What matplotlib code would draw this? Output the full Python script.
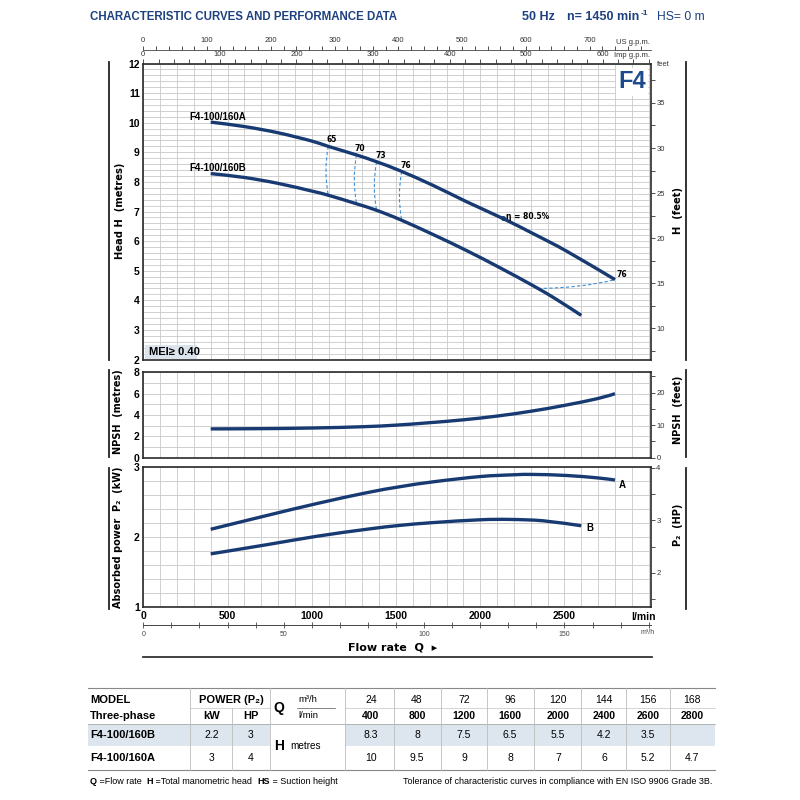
import numpy as np
import matplotlib
matplotlib.use("Agg")
import matplotlib.pyplot as plt
from matplotlib.lines import Line2D
from matplotlib.patches import PathPatch, Rectangle
from matplotlib.path import Path
from matplotlib.ticker import NullFormatter

NARROW = ['Liberation Sans Narrow', 'Liberation Sans', 'DejaVu Sans']
WIDE = ['DejaVu Sans']
plt.rcParams['font.family'] = NARROW

NAVY = '#173a72'
TITLE_BLUE = '#1e4180'
DASH = '#3d8fd6'
GRID = '#c9c9c9'

# ---------------- data ----------------
flow_A = [400, 600, 800, 1000, 1098, 1266, 1385, 1523, 1721, 1919, 2136, 2315, 2513, 2800]
head_A = [10.02, 9.87, 9.66, 9.38, 9.20, 8.91, 8.68, 8.38, 7.88, 7.33, 6.76, 6.25, 5.66, 4.70]
flow_B = [400, 600, 800, 1000, 1098, 1266, 1385, 1523, 1721, 1919, 2117, 2315, 2450, 2600]
head_B = [8.28, 8.15, 7.95, 7.69, 7.55, 7.26, 7.04, 6.73, 6.22, 5.68, 5.10, 4.49, 4.04, 3.49]

eff_labels = ['65', '70', '73', '76']
eff_flow = [1098, 1266, 1385, 1534]
eff_top = [9.20, 8.91, 8.68, 8.35]
eff_bot = [7.55, 7.26, 7.04, 6.71]
eff_end_flow = [2344, 2600, 2800]
eff_end_head = [4.40, 4.41, 4.70]
best_eff = (2133, 6.77, 'η = 80.5%')

flow_npsh = [400, 700, 1000, 1300, 1500, 1700, 1900, 2100, 2300, 2500, 2700, 2800]
npsh = [2.70, 2.72, 2.78, 2.90, 3.05, 3.28, 3.55, 3.90, 4.35, 4.90, 5.55, 6.00]

flow_PA = [400, 732, 1029, 1326, 1523, 1721, 2000, 2200, 2315, 2513, 2700, 2800]
power_A = [2.11, 2.305, 2.475, 2.63, 2.715, 2.785, 2.86, 2.885, 2.89, 2.875, 2.84, 2.81]
flow_PB = [400, 732, 1029, 1326, 1523, 1721, 2000, 2178, 2376, 2600]
power_B = [1.76, 1.89, 2.01, 2.11, 2.165, 2.205, 2.245, 2.25, 2.23, 2.16]

table_m3h = ['24', '48', '72', '96', '120', '144', '156', '168']
table_lmin = ['400', '800', '1200', '1600', '2000', '2400', '2600', '2800']
models = ['F4-100/160B', 'F4-100/160A']
model_kw = ['2.2', '3']
model_hp = ['3', '4']
model_heads = [['8.3', '8', '7.5', '6.5', '5.5', '4.2', '3.5', ''],
               ['10', '9.5', '9', '8', '7', '6', '5.2', '4.7']]

# ---------------- figure ----------------
fig = plt.figure(figsize=(8, 8), dpi=100)


def fx(x):
    return x / 800.0


def fy(y):
    return 1 - y / 800.0


X0, X1 = 143.3, 650.7
QMAX = 3012


def add_ax(top, bottom):
    return fig.add_axes([fx(X0), fy(bottom), (X1 - X0) / 800.0, (bottom - top) / 800.0])


def style_main(ax, ylim, ymajor, yminor):
    ax.set_xlim(0, QMAX)
    ax.set_ylim(*ylim)
    ax.set_xticks(np.arange(0, QMAX, 100), minor=True)
    ax.set_yticks(yminor, minor=True)
    ax.set_yticks(ymajor)
    ax.set_yticklabels([('%g' % v) for v in ymajor])
    ax.grid(True, which='both', color=GRID, lw=0.6)
    ax.set_axisbelow(True)
    ax.tick_params(which='both', length=0)
    ax.tick_params(axis='y', labelsize=7.5, pad=2.5)
    for lab in ax.get_yticklabels():
        lab.set_fontweight('bold')
    for s in ax.spines.values():
        s.set_color('#2a2a2a')
        s.set_linewidth(1.2)


def smooth_path(xs, ys):
    # smooth curve (Catmull-Rom as cubic Bezier) passing through the read points
    P = np.column_stack([xs, ys]).astype(float)
    n = len(P)
    verts = [P[0]]
    codes = [Path.MOVETO]
    for i in range(n - 1):
        p0 = P[i - 1] if i > 0 else P[i]
        p1 = P[i]
        p2 = P[i + 1]
        p3 = P[i + 2] if i + 2 < n else P[i + 1]
        verts += [p1 + (p2 - p0) / 6.0, p2 - (p3 - p1) / 6.0, p2]
        codes += [Path.CURVE4] * 3
    return Path(verts, codes)


def draw_curve(ax, xs, ys, lw=2.4):
    ax.add_patch(PathPatch(smooth_path(xs, ys), fill=False, ec=NAVY, lw=lw,
                           capstyle='butt', joinstyle='round', zorder=4))


ax_h = add_ax(63.5, 359.5)
ax_n = add_ax(372.3, 457.7)
ax_p = add_ax(466.7, 607.3)

style_main(ax_h, (2, 12), list(range(2, 13)), np.arange(2, 12.01, 0.2))
style_main(ax_n, (0, 8), [0, 2, 4, 6, 8], np.arange(0, 8.01, 1))
style_main(ax_p, (1, 3), [1, 2, 3], np.arange(1, 3.01, 0.2))

for ax in (ax_h, ax_n):
    ax.set_xticks([])
    ax.set_xticks(np.arange(0, QMAX, 100), minor=True)
    ax.tick_params(which='both', length=0, labelbottom=False)

ax_p.set_xticks([0, 500, 1000, 1500, 2000, 2500])
ax_p.set_xticklabels(['0', '500', '1000', '1500', '2000', '2500'])
ax_p.tick_params(axis='x', labelsize=7.5, pad=3)
for lab in ax_p.get_xticklabels():
    lab.set_fontweight('bold')
ax_p.text(0.985, -0.07, 'l/min', transform=ax_p.transAxes, ha='center', va='center',
          fontsize=7.5, fontweight='bold')

# curves
draw_curve(ax_h, flow_A, head_A)
draw_curve(ax_h, flow_B, head_B)
draw_curve(ax_n, flow_npsh, npsh)
draw_curve(ax_p, flow_PA, power_A)
draw_curve(ax_p, flow_PB, power_B)

# efficiency iso-lines
for q, ht, hb, lab in zip(eff_flow, eff_top, eff_bot, eff_labels):
    verts = [(q, ht), (q - 28, (ht + hb) / 2.0), (q, hb)]
    ax_h.add_patch(PathPatch(Path(verts, [Path.MOVETO, Path.CURVE3, Path.CURVE3]), fill=False,
                             ec=DASH, lw=0.8, ls=(0, (3, 2)), zorder=3))
    ax_h.text(q + 22, ht + 0.22, lab, fontsize=5.5, fontweight='bold', ha='center', va='center',
              family=WIDE, zorder=5)
verts = list(zip(eff_end_flow, eff_end_head))
ax_h.add_patch(PathPatch(Path(verts, [Path.MOVETO, Path.CURVE3, Path.CURVE3]), fill=False,
                         ec=DASH, lw=0.8, ls=(0, (3, 2)), zorder=3))
ax_h.text(eff_end_flow[-1] + 40, eff_end_head[-1] + 0.17, '76', fontsize=5.5, fontweight='bold',
          ha='center', va='center', family=WIDE, zorder=5)
ax_h.plot([best_eff[0]], [best_eff[1]], marker='o', ms=2.5, color=NAVY, zorder=5)
ax_h.text(best_eff[0] + 20, best_eff[1] + 0.06, best_eff[2], fontsize=5.5, fontweight='bold',
          ha='left', va='center', family=WIDE, zorder=5)

# curve names
ax_h.text(273, 10.2, 'F4-100/160A', fontsize=7, fontweight='bold', ha='left', va='center')
ax_h.text(273, 8.48, 'F4-100/160B', fontsize=7, fontweight='bold', ha='left', va='center')
ax_p.text(2845, 2.74, 'A', fontsize=7, fontweight='bold', ha='center', va='center')
ax_p.text(2650, 2.13, 'B', fontsize=7, fontweight='bold', ha='center', va='center')

# MEI box
fig.add_artist(Rectangle((fx(144.5), fy(359)), (197 - 144.5) / 800.0, 14.5 / 800.0,
                         transform=fig.transFigure, facecolor='#dbe3ec', edgecolor='none', zorder=5))
fig.text(fx(149), fy(352), 'MEI≥ 0.40', fontsize=8, fontweight='bold', ha='left', va='center',
         zorder=6)

# F4
fig.text(fx(632), fy(82), 'F4', fontsize=17, fontweight='bold', color='#1d4a8c', ha='center',
         va='center', bbox=dict(facecolor='white', edgecolor='none', pad=1.5), zorder=6)

# right axes
FT = 3.28084
axr = ax_h.twinx()
axr.set_ylim(2 * FT, 12 * FT)
axr.set_yticks(np.arange(10, 36, 5))
axr.set_yticks(np.arange(7.5, 39.5, 2.5), minor=True)
r2 = ax_n.twinx()
r2.set_ylim(0, 8 * FT)
r2.set_yticks([0, 10, 20])
r2.set_yticks([5, 15, 25], minor=True)
HPK = 1.34102
r3 = ax_p.twinx()
r3.set_ylim(1 * HPK, 3 * HPK)
r3.set_yticks([2, 3, 4])
r3.set_yticks([1.5, 2.5, 3.5], minor=True)
for r in (axr, r2, r3):
    r.tick_params(which='both', direction='out', length=3, width=0.6, colors='#333333',
                  labelsize=5.5, pad=1)
    r.yaxis.set_minor_formatter(NullFormatter())
    for s in r.spines.values():
        s.set_visible(False)
fig.text(fx(657), fy(65), 'feet', fontsize=5.5, color='#333333', ha='left', va='center')

# top flow scales
imp = ax_h.secondary_xaxis('top', functions=(lambda q: q / 4.54609, lambda g: g * 4.54609))
imp.set_xticks(np.arange(0, 601, 100))
imp.set_xticks(np.arange(0, 662, 20), minor=True)
imp.tick_params(which='both', direction='out', length=3, width=0.6, labelsize=5.5, pad=1,
                colors='#333333')
imp.xaxis.set_minor_formatter(NullFormatter())
imp.spines['top'].set_visible(False)

ax_us = fig.add_axes([fx(X0), fy(50), (X1 - X0) / 800.0, 0.0001])
ax_us.set_xlim(0, QMAX / 3.78541)
ax_us.set_yticks([])
for s in ('left', 'right', 'bottom'):
    ax_us.spines[s].set_visible(False)
ax_us.spines['top'].set_linewidth(0.6)
ax_us.spines['top'].set_color('#444444')
ax_us.xaxis.tick_top()
ax_us.set_xticks(np.arange(0, 701, 100))
ax_us.set_xticks(np.arange(0, 796, 20), minor=True)
ax_us.xaxis.set_minor_formatter(NullFormatter())
ax_us.tick_params(which='both', direction='out', length=3, width=0.6, labelsize=5.5, pad=1,
                  colors='#333333')
fig.text(fx(650), fy(43), 'US g.p.m.', fontsize=5.5, color='#333333', ha='right', va='center')
fig.text(fx(650), fy(55.5), 'Imp g.p.m.', fontsize=5.5, color='#333333', ha='right', va='center')

# m3/h scale
ax_m = fig.add_axes([fx(X0), fy(625), (X1 - X0) / 800.0, 0.0001])
ax_m.set_xlim(0, QMAX * 0.06)
ax_m.set_yticks([])
for s in ('left', 'right', 'top'):
    ax_m.spines[s].set_visible(False)
ax_m.spines['bottom'].set_linewidth(0.7)
ax_m.spines['bottom'].set_color('#444444')
ax_m.set_xticks([0, 50, 100, 150])
ax_m.set_xticks(np.arange(0, 181, 10), minor=True)
ax_m.xaxis.set_minor_formatter(NullFormatter())
ax_m.tick_params(which='both', direction='inout', length=5, width=0.6, labelsize=5, pad=2,
                 colors='#444444')
fig.text(fx(648), fy(632), 'm³/h', fontsize=5, color='#444444', ha='center', va='center')

fig.text(fx(393), fy(648), 'Flow rate  Q  ▸', fontsize=8, fontweight='bold', ha='center',
         va='center', family=WIDE)
fig.add_artist(Line2D([fx(143), fx(652)], [fy(656.5), fy(656.5)], color='#333333', lw=1.3))

# side labels
fig.text(fx(120), fy(211), 'Head H  (metres)', rotation=90, fontsize=7.2, fontweight='bold',
         ha='center', va='center', family=WIDE)
fig.text(fx(118), fy(412), 'NPSH  (metres)', rotation=90, fontsize=7, fontweight='bold',
         ha='center', va='center', family=WIDE)
fig.text(fx(118), fy(537), 'Absorbed power  P₂  (kW)', rotation=90, fontsize=7, fontweight='bold',
         ha='center', va='center', family=WIDE)
fig.text(fx(678), fy(210), 'H  (feet)', rotation=90, fontsize=7.2, fontweight='bold',
         ha='center', va='center', family=WIDE)
fig.text(fx(678), fy(410), 'NPSH  (feet)', rotation=90, fontsize=7, fontweight='bold',
         ha='center', va='center', family=WIDE)
fig.text(fx(678), fy(525), 'P₂  (HP)', rotation=90, fontsize=7, fontweight='bold',
         ha='center', va='center', family=WIDE)

# bracket bars
for (t, b) in [(62, 360), (370, 457), (468, 609)]:
    fig.add_artist(Line2D([fx(109), fx(109)], [fy(t), fy(b)], color='#222222', lw=1.3))
    fig.add_artist(Line2D([fx(686), fx(686)], [fy(t), fy(b)], color='#222222', lw=1.3))

# header
renderer = fig.canvas.get_renderer()
fig.text(fx(90), fy(17), 'CHARACTERISTIC CURVES AND PERFORMANCE DATA', fontsize=8.3,
         fontweight='bold', color=TITLE_BLUE, ha='left', va='center')
fig.text(fx(522), fy(17), '50 Hz', fontsize=9, fontweight='bold', color=TITLE_BLUE,
         ha='left', va='center')
t = fig.text(fx(567), fy(17), 'n= 1450 min', fontsize=9, fontweight='bold', color=TITLE_BLUE,
             ha='left', va='center')
bb = t.get_window_extent(renderer=renderer)
fig.text(fx(567 + bb.width + 1), fy(13.5), '-1', fontsize=6, fontweight='bold', color=TITLE_BLUE,
         ha='left', va='center')
fig.text(fx(657), fy(17), 'HS= 0 m', fontsize=8.7, color=TITLE_BLUE, ha='left', va='center')

# ---------------- table ----------------
TL, TR = 88, 715
val_x = [371, 417, 464, 510, 558, 604, 648, 692]
sep_x = [394, 440.5, 487, 534, 581, 626, 670]
LINE = '#9a9a9a'


def hline(y, x0, x1, c=LINE, w=0.7):
    fig.add_artist(Line2D([fx(x0), fx(x1)], [fy(y), fy(y)], color=c, lw=w))


def vline(x, y0, y1, c='#bdbdbd', w=0.6):
    fig.add_artist(Line2D([fx(x), fx(x)], [fy(y0), fy(y1)], color=c, lw=w))


SHADE = '#dde5ee'
fig.add_artist(Rectangle((fx(TL), fy(746)), (270 - TL) / 800.0, 22 / 800.0,
                         transform=fig.transFigure, facecolor=SHADE, edgecolor='none'))
fig.add_artist(Rectangle((fx(345), fy(746)), (TR - 345) / 800.0, 22 / 800.0,
                         transform=fig.transFigure, facecolor=SHADE, edgecolor='none'))

hline(688, TL, TR, c='#888888', w=0.8)
hline(707.5, 190, 270, c='#c4c4c4', w=0.5)
hline(707.5, 345, TR, c='#c4c4c4', w=0.5)
hline(707.5, 297, 335, c='#555555', w=0.5)
hline(724, TL, TR, c='#aaaaaa', w=0.6)
hline(746, TL, 270, c='#ffffff', w=0.8)
hline(746, 345, TR, c='#ffffff', w=0.8)
hline(770, TL, TR, c='#888888', w=0.8)
for x in [190, 270, 345] + sep_x:
    vline(x, 688, 770)
vline(232, 707.5, 770)

FS = 7.5
fig.text(fx(90), fy(700), 'MODEL', fontsize=8, fontweight='bold', ha='left', va='center')
fig.text(fx(90), fy(716), 'Three-phase', fontsize=8, fontweight='bold', ha='left', va='center')
fig.text(fx(231), fy(700), 'POWER (P₂)', fontsize=8, fontweight='bold', ha='center', va='center')
fig.text(fx(212), fy(716), 'kW', fontsize=8, fontweight='bold', ha='center', va='center')
fig.text(fx(251), fy(716), 'HP', fontsize=8, fontweight='bold', ha='center', va='center')
fig.text(fx(279), fy(708), 'Q', fontsize=10, fontweight='bold', ha='center', va='center')
fig.text(fx(298), fy(700), 'm³/h', fontsize=6.8, ha='left', va='center')
fig.text(fx(298), fy(716), 'l/min', fontsize=6.8, ha='left', va='center')
fig.text(fx(279), fy(746), 'H', fontsize=10, fontweight='bold', ha='center', va='center')
fig.text(fx(290), fy(746), 'metres', fontsize=7.2, ha='left', va='center')
for x, a, b in zip(val_x, table_m3h, table_lmin):
    fig.text(fx(x), fy(700), a, fontsize=FS, ha='center', va='center')
    fig.text(fx(x), fy(716), b, fontsize=FS, fontweight='bold', ha='center', va='center')
for yy, name, kw, hp, vals in zip([735, 758], models, model_kw, model_hp, model_heads):
    fig.text(fx(90), fy(yy), name, fontsize=8, fontweight='bold', ha='left', va='center')
    fig.text(fx(212), fy(yy), kw, fontsize=FS, ha='center', va='center')
    fig.text(fx(251), fy(yy), hp, fontsize=FS, ha='center', va='center')
    for x, v in zip(val_x, vals):
        fig.text(fx(x), fy(yy), v, fontsize=FS, ha='center', va='center')

# footnotes
pieces = [('Q', True), (' =Flow rate  ', False), ('H', True), (' =Total manometric head  ', False),
          ('HS', True), (' = Suction height', False)]
xx = 90
for s, b in pieces:
    tt = fig.text(fx(xx), fy(781), s, fontsize=6.5, fontweight='bold' if b else 'normal',
                  ha='left', va='center')
    xx += tt.get_window_extent(renderer=renderer).width
fig.text(fx(712), fy(781), 'Tolerance of characteristic curves in compliance with EN ISO 9906 Grade 3B.',
         fontsize=6.5, ha='right', va='center')

fig.savefig('out.png', dpi=100)
